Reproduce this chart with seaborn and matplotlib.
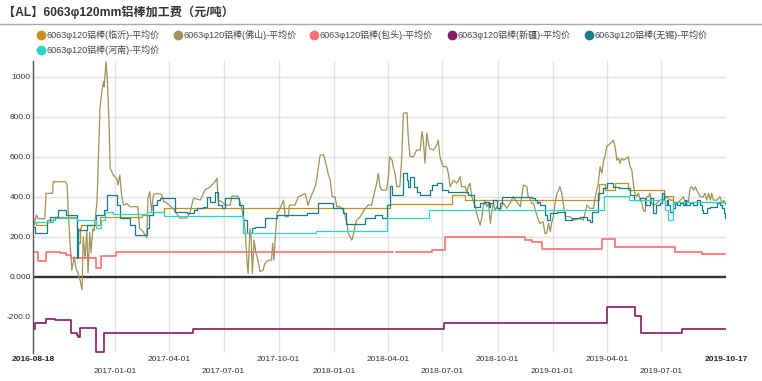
import numpy as np
import pandas as pd
import matplotlib
matplotlib.use("Agg")
import matplotlib.pyplot as plt
from matplotlib.lines import Line2D
import seaborn as sns

# ---------------- data (days since 2016-08-18, value) ----------------
START = "2016-08-18"
END = "2019-10-17"

series_names = ["6063φ120铝棒(临沂)-平均价", "6063φ120铝棒(佛山)-平均价",
                "6063φ120铝棒(包头)-平均价", "6063φ120铝棒(新疆)-平均价",
                "6063φ120铝棒(无锡)-平均价", "6063φ120铝棒(河南)-平均价"]

linyi_days = [0, 5, 22, 36, 72, 75, 78, 80, 111, 181, 200, 217, 595, 698, 720, 944, 953, 970, 992, 1051, 1067, 1155]
linyi_vals = [267, 260, 283, 297, 242, 167, 242, 258, 300, 310, 325, 342, 362, 408, 383, 463, 433, 470, 433, 403, 375, 375]

foshan_days = [0, 5, 8, 19, 21, 32, 33, 53, 56, 58, 61, 64, 68, 71, 74, 78, 81, 83, 86, 89, 91, 94, 96, 99, 101,
               106, 111, 114, 117, 118, 121, 123, 126, 128, 133, 139, 141, 144, 147, 150, 156, 161, 174, 177, 183,
               189, 191, 194, 197, 200, 206, 214, 217, 222, 233, 244, 256, 261, 267, 278, 286, 295, 303, 306, 308,
               314, 320, 328, 331, 341, 345, 350, 353, 356, 358, 361, 363, 365, 368, 371, 373, 378, 383, 386, 392,
               397, 399, 401, 406, 411, 417, 420, 425, 427, 436, 442, 453, 456, 458, 464, 470, 473, 478, 484, 486,
               489, 492, 495, 498, 503, 506, 511, 517, 523, 525, 531, 534, 536, 539, 545, 550, 558, 564, 567, 573,
               575, 578, 581, 589, 592, 594, 598, 600, 603, 606, 611, 614, 617, 623, 625, 628, 634, 639, 645, 648,
               650, 653, 656, 659, 661, 667, 673, 675, 678, 681, 684, 689, 692, 695, 698, 700, 706, 712, 714, 720,
               723, 725, 728, 731, 737, 739, 745, 748, 750, 753, 756, 759, 762, 764, 767, 770, 773, 778, 784, 789,
               795, 800, 806, 812, 817, 823, 825, 828, 831, 834, 837, 842, 845, 850, 853, 856, 859, 862, 864, 867,
               870, 873, 875, 878, 881, 884, 887, 895, 901, 912, 917, 923, 928, 934, 937, 942, 945, 948, 951, 953,
               956, 959, 965, 967, 970, 973, 976, 978, 981, 984, 990, 992, 995, 998, 1001, 1003, 1006, 1009, 1012,
               1015, 1017, 1020, 1023, 1026, 1028, 1031, 1034, 1040, 1045, 1051, 1056, 1062, 1067, 1070, 1073, 1079,
               1084, 1087, 1090, 1092, 1095, 1098, 1101, 1104, 1106, 1109, 1112, 1117, 1120, 1123, 1126, 1129, 1131,
               1134, 1140, 1145, 1148, 1151, 1155]
foshan_vals = [250, 308, 290, 290, 417, 417, 475, 475, 463, 333, 167, 33, 100, 40, 20, -20, -65, 200, 90, 230, 20, 220, 120, 240, 230,
               375, 843, 925, 975, 950, 1075, 1000, 775, 543, 508, 490, 458, 508, 408, 358, 365, 350, 350, 243, 225,
               195, 393, 425, 325, 410, 417, 410, 375, 370, 340, 293, 293, 320, 393, 383, 433, 450, 475, 492, 383,
               375, 358, 358, 403, 403, 370, 300, 233, 83, 17, 240, 200, 17, 183, 117, 100, 25, 33, 67, 83,
               83, 167, 83, 317, 340, 383, 300, 300, 358, 358, 400, 415, 383, 358, 410, 450, 500, 608, 608, 583,
               550, 508, 483, 400, 400, 350, 350, 333, 267, 217, 183, 217, 250, 283, 300, 325, 358, 358, 400, 475,
               517, 450, 433, 433, 500, 600, 583, 550, 517, 450, 450, 583, 817, 820, 700, 600, 600, 633, 633, 725,
               690, 567, 717, 660, 640, 633, 660, 683, 600, 567, 550, 550, 517, 450, 467, 483, 467, 500, 450, 450,
               417, 450, 467, 400, 350, 317, 258, 300, 350, 383, 350, 367, 267, 317, 367, 333, 350, 333, 367, 342,
               367, 400, 375, 350, 458, 450, 400, 392, 367, 367, 333, 283, 267, 275, 217, 217, 267, 225, 267, 300,
               367, 417, 425, 450, 417, 358, 300, 300, 283, 292, 283, 358, 342, 342, 400, 467, 550, 517, 583, 600,
               650, 658, 675, 683, 650, 583, 592, 567, 592, 583, 592, 600, 550, 533, 450, 417, 400, 417, 383,
               367, 333, 325, 400, 400, 417, 367, 358, 367, 383, 383, 400, 383, 383, 358, 367, 383,
               400, 367, 383, 367, 442, 450, 433, 450, 433, 417, 400, 400, 417, 383, 417, 383, 417,
               383, 383, 400, 367, 383, 358]

baotou_days = [0, 8, 21, 44, 55, 63, 104, 113, 138, 599, 600, 605, 664, 686, 820, 831, 848, 949, 970, 1070, 1115, 1155]
baotou_vals = [125, 80, 125, 117, 108, 92, 42, 103, 122, 122, np.nan, 122, 133, 200, 183, 173, 140, 188, 150, 122, 112, 112]

xinjiang_days = [0, 3, 21, 36, 62, 72, 75, 78, 105, 118, 266, 685, 956, 1003, 1014, 1082, 1155]
xinjiang_vals = [-263, -233, -212, -218, -280, -290, -300, -258, -378, -280, -260, -230, -150, -197, -280, -260, -260]

wuxi_days = [0, 3, 22, 28, 41, 55, 72, 73, 75, 89, 105, 117, 122, 139, 144, 161, 169, 189, 192, 200, 206, 211, 222,
             236, 256, 267, 272, 283, 289, 294, 303, 308, 314, 320, 342, 350, 356, 364, 370, 386, 406, 456, 475, 500,
             517, 522, 553, 569, 581, 589, 594, 598, 617, 623, 625, 628, 634, 639, 645, 661, 664, 673, 681, 692, 725,
             734, 745, 753, 759, 761, 767, 773, 778, 781, 825, 831, 837, 839, 842, 845, 853, 856, 862, 873, 887, 898,
             912, 923, 928, 931, 942, 950, 956, 967, 976, 995, 1001, 1012, 1020, 1028, 1034, 1039, 1045, 1048, 1051,
             1053, 1056, 1059, 1062, 1067, 1070, 1073, 1078, 1084, 1087, 1089, 1095, 1100, 1106, 1112, 1115, 1117,
             1123, 1128, 1140, 1145, 1148, 1151, 1153, 1155]
wuxi_vals = [250, 217, 275, 300, 333, 308, 183, 92, 233, 258, 308, 333, 408, 358, 292, 258, 208, 242, 308, 358, 383, 392, 395,
             325, 317, 333, 342, 350, 400, 375, 425, 358, 342, 392, 358, 283, 217, 242, 250, 292, 308, 317, 367, 342,
             317, 262, 292, 308, 292, 358, 453, 408, 517, 483, 450, 500, 450, 425, 408, 433, 458, 467, 433, 425, 408,
             350, 367, 375, 350, 367, 383, 342, 367, 400, 400, 392, 383, 367, 375, 358, 308, 283, 317, 325, 283, 292,
             300, 283, 275, 325, 417, 442, 467, 450, 442, 408, 383, 392, 358, 392, 317, 358, 367, 417, 383,
             358, 383, 358, 325, 342, 375, 358, 367, 358, 383, 358, 367, 358, 383, 358, 333, 317,
             342, 350, 367, 358, 342, 317, 292, 292]

henan_days = [0, 5, 33, 72, 105, 113, 119, 133, 189, 217, 349, 472, 590, 659, 952, 993, 1053, 1059, 1067, 1070, 1155]
henan_vals = [267, 272, 292, 283, 242, 283, 325, 312, 322, 303, 217, 230, 292, 333, 403, 383, 333, 283, 367, 375, 375]

series_days = [linyi_days, foshan_days, baotou_days, xinjiang_days, wuxi_days, henan_days]
series_vals = [linyi_vals, foshan_vals, baotou_vals, xinjiang_vals, wuxi_vals, henan_vals]
series_step = [True, False, True, True, True, True]
colors = ["#C4901E", "#9C9459", "#FF6E6E", "#8A1A5F", "#137F8E", "#2AD8C9"]
widths = [0.9, 0.9, 1.2, 1.2, 0.9, 0.9]

ytick_vals = [-200, 0, 200, 400, 600, 800, 1000]
ytick_labels = ["-200.0", "0.000", "200.0", "400.0", "600.0", "800.0", "1000"]
xtick_dates = ["2016-08-18", "2017-01-01", "2017-04-01", "2017-07-01", "2017-10-01", "2018-01-01",
               "2018-04-01", "2018-07-01", "2018-10-01", "2019-01-01", "2019-04-01", "2019-07-01", "2019-10-17"]
title = "【AL】6063φ120mm铝棒加工费（元/吨）"

# ---------------- drawing ----------------
sns.set_theme(style="white")
plt.rcParams["font.family"] = ["Liberation Sans", "Noto Sans CJK SC", "DejaVu Sans"]

W, H = 762, 381
fig = plt.figure(figsize=(W / 100, H / 100), dpi=100)
ax = fig.add_axes([33.45 / W, 1 - 353 / H, (726 - 33.45) / W, (353 - 61) / H])

start = pd.Timestamp(START)
for name, days, vals, step, c, lw in zip(series_names, series_days, series_vals, series_step, colors, widths):
    df = pd.DataFrame({"date": start + pd.to_timedelta(days, unit="D"), "v": vals})
    df["seg"] = df["v"].isna().cumsum()
    df = df.dropna()
    for _, sub in df.groupby("seg"):
        kw = {"drawstyle": "steps-post"} if step else {}
        sns.lineplot(data=sub, x="date", y="v", ax=ax, color=c, linewidth=lw,
                     estimator=None, sort=False, legend=False, **kw)

ax.set_xlim(start, pd.Timestamp(END))
ax.set_ylim(-381, 1078)
ax.set_xlabel("")
ax.set_ylabel("")

# grid
for d in xtick_dates[1:-1]:
    ax.axvline(pd.Timestamp(d), color="#e2e2e2", lw=1, zorder=0)
for v in ytick_vals:
    if v > 0:
        ax.axhline(v, color="#e2e2e2", lw=1, zorder=0)
ax.axhline(0, color="#333333", lw=1.7, zorder=1)

for s in ["top", "right", "bottom"]:
    ax.spines[s].set_visible(False)
ax.spines["left"].set_color("#555555")
ax.spines["left"].set_linewidth(1)

ax.set_yticks(ytick_vals)
ax.set_yticklabels(ytick_labels)
ax.tick_params(axis="y", length=0, pad=2, labelsize=6, labelcolor="#333333")

ax.set_xticks([pd.Timestamp(d) for d in xtick_dates])
ax.set_xticklabels(xtick_dates)
ax.tick_params(axis="x", length=0, labelsize=6, labelcolor="#333333")
xt = ax.xaxis.get_major_ticks()
for i, t in enumerate(xt):
    if i == 0 or i == len(xt) - 1:
        t.set_pad(2.5)
        t.label1.set_fontweight("bold")
        t.label1.set_color("#222222")
    elif i % 2 == 1:
        t.set_pad(10.5)
    else:
        t.set_pad(2.5)

# title and separator
fig.text(3 / W, 1 - 12 / H, title, fontsize=8.7, fontweight="bold", color="#333333", va="center", ha="left")
fig.add_artist(Line2D([0, 1], [1 - 23.5 / H] * 2, color="#aaaaaa", lw=1, transform=fig.transFigure))

# legend (manual)
leg_pos = [(41, 35), (178, 35), (314, 35), (452, 35), (589, 35), (41, 50)]
for (lx, ly), name, c in zip(leg_pos, series_names, colors):
    fig.add_artist(Line2D([lx / W], [1 - ly / H], marker="o", markersize=6, color=c,
                          linestyle="", transform=fig.transFigure))
    fig.text((lx + 5.5) / W, 1 - ly / H, name, fontsize=6.5, color="#444444", va="center", ha="left")

fig.savefig("out.png", dpi=100)
